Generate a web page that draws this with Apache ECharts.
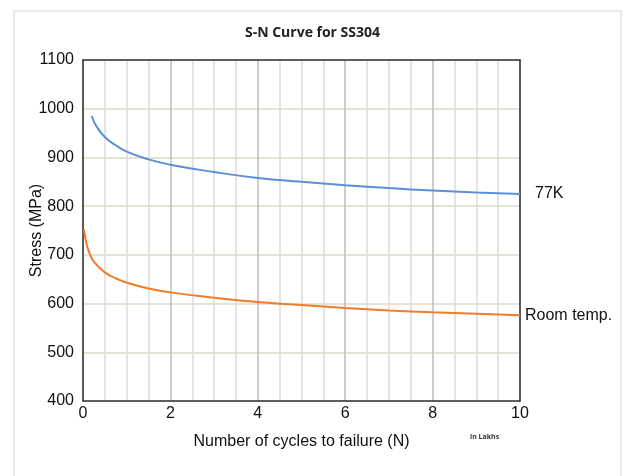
<!DOCTYPE html>
<html><head><meta charset="utf-8">
<script src="https://cdn.jsdelivr.net/npm/echarts@6/dist/echarts.min.js"></script>
<style>html,body{margin:0;padding:0;background:#fff}#c{width:625px;height:476px}</style>
</head><body><div id="c"></div>
<script>
const chartTitle = 'S-N Curve for SS304';
const xName = 'Number of cycles to failure (N)';
const yName = 'Stress (MPa)';
const unitNote = 'in Lakhs';
const seriesNames = ['77K', 'Room temp.'];
const x77K = [0.2, 0.3, 0.5, 0.75, 1, 1.5, 2, 3, 4, 5, 6, 7, 8, 9, 10];
const s77K = [985, 965, 942, 925, 912, 896, 885, 870, 858, 850, 843, 837, 832, 828, 825];
const xRoom = [0.02, 0.06, 0.1, 0.15, 0.25, 0.5, 0.75, 1, 1.5, 2, 3, 4, 5, 6, 7, 8, 9, 10];
const sRoom = [752, 732, 716, 703, 686, 664, 652, 643, 631, 623, 612, 603, 597, 591, 586, 582, 579, 576];

const font = '"Liberation Sans", Arial, sans-serif';
const chart = echarts.init(document.getElementById('c'));
const pair = (xs, ys) => xs.map((x, i) => [x, ys[i]]);
chart.setOption({
  animation: false,
  backgroundColor: '#fff',
  title: {
    text: chartTitle, left: 'center', top: 21,
    textStyle: {fontFamily: '"Open Sans", "Noto Sans", sans-serif', fontWeight: 'bold', fontSize: 14, color: '#222'}
  },
  grid: {left: 83, right: 105, top: 60, bottom: 75},
  xAxis: [{
    type: 'value', min: 0, max: 10, interval: 2,
    name: xName, nameLocation: 'middle', nameGap: 33,
    nameTextStyle: {fontFamily: font, fontSize: 16, color: '#111'},
    axisLine: {lineStyle: {color: '#333', width: 1.5}},
    axisTick: {show: false},
    axisLabel: {fontFamily: font, fontSize: 16, color: '#111', margin: 5},
    splitLine: {show: true, lineStyle: {color: '#bdbdbd', width: 1.5}},
    minorTick: {show: false, splitNumber: 4},
    minorSplitLine: {show: true, lineStyle: {color: '#dcdcdc', width: 1.5}}
  }, {
    type: 'value', position: 'top', min: 0, max: 10,
    axisLine: {show: true, onZero: false, lineStyle: {color: '#333', width: 1.5}},
    axisTick: {show: false}, axisLabel: {show: false}, splitLine: {show: false}
  }],
  yAxis: [{
    type: 'value', min: 400, max: 1100, interval: 100,
    name: yName, nameLocation: 'middle', nameGap: 38, nameMoveOverlap: false,
    nameTextStyle: {fontFamily: font, fontSize: 16, color: '#111'},
    axisLine: {show: true, lineStyle: {color: '#333', width: 1.5}},
    axisTick: {show: false},
    axisLabel: {fontFamily: font, fontSize: 16, color: '#111', margin: 9, formatter: v => String(v)},
    splitLine: {show: true, lineStyle: {color: '#dedac6', width: 1.5}}
  }, {
    type: 'value', position: 'right', min: 400, max: 1100,
    axisLine: {show: true, onZero: false, lineStyle: {color: '#333', width: 1.5}},
    axisTick: {show: false}, axisLabel: {show: false}, splitLine: {show: false}
  }],
  series: [{
    name: seriesNames[0], type: 'line', smooth: true, showSymbol: false,
    data: pair(x77K, s77K),
    lineStyle: {color: '#5b8fd8', width: 2}, itemStyle: {color: '#5b8fd8'},
    endLabel: {show: true, formatter: seriesNames[0], distance: 15, fontFamily: font, fontSize: 16, color: '#111'}
  }, {
    name: seriesNames[1], type: 'line', smooth: true, showSymbol: false,
    data: pair(xRoom, sRoom),
    lineStyle: {color: '#ef7b2b', width: 2}, itemStyle: {color: '#ef7b2b'},
    endLabel: {show: true, formatter: seriesNames[1], distance: 5, fontFamily: font, fontSize: 16, color: '#111'}
  }],
  graphic: [
    {type: 'rect', shape: {x: 14, y: 11, width: 607, height: 470}, style: {fill: 'none', stroke: '#d4d4d4', lineWidth: 1}, silent: true},
    {type: 'text', left: 470, top: 433, style: {text: unitNote, font: 'bold 7px "Open Sans", sans-serif', fill: '#333'}}
  ]
});
</script></body></html>
